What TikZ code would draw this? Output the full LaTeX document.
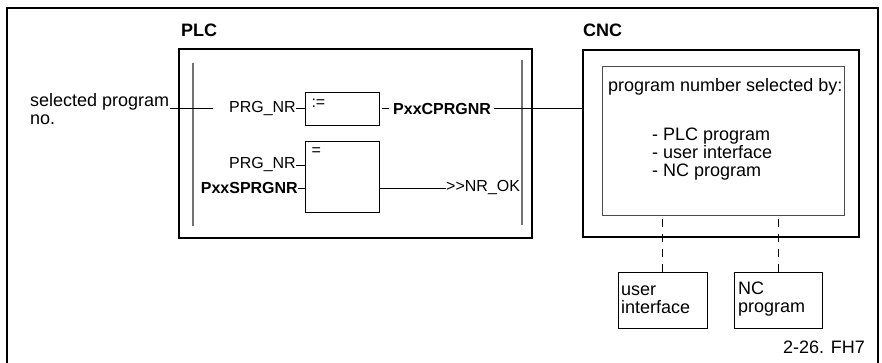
\documentclass[tikz,border=0pt]{standalone}
\usepackage{fontspec}
\setmainfont{Liberation Sans}
\usepackage{tikz}

\begin{document}
\begin{tikzpicture}[x=1pt, y=-1pt,
	frame/.style={draw, line width=2.5pt, inner sep=0},
	fblock/.style={draw, line width=0.9pt, inner sep=0, minimum width=73.3pt},
	rail/.style={line width=1.5pt, draw=black!55},
	wire/.style={line width=0.9pt},
	link/.style={line width=0.9pt, dash pattern=on 8pt off 7pt},
	big/.style={inner sep=0, font=\fontsize{18}{18}\selectfont},
	small/.style={inner sep=0, font=\fontsize{16}{16}\selectfont},
	title/.style={inner sep=0, font=\fontsize{18}{18}\selectfont\bfseries}]
			\useasboundingbox (0,0) rectangle (882,363);
			\draw[line width=2.3pt] (7,363) |- (878,8) -- (878,363);
			\node[title, anchor=base west] (plclbl) at (181,37) {PLC};
			\node[frame, minimum width=353pt, minimum height=189pt] (plc) at (355.5,143.5) {};
			\draw[rail] (193,63) -- (193,226);
			\draw[rail] (522,60) -- (522,225);
			\node[big, align=left, anchor=north west] (sel) at (30,93) {selected program\\no.};
			\coordinate (inA) at (170,108);
			\coordinate (inB) at (213,108);
			\draw[wire] (inA) -- (inB);
			\node[fblock, minimum height=33pt] (asgn) at (342.4,109.2) {};
			\node[small, anchor=north west] (asgnop) at ([shift={(6pt,-7pt)}]asgn.north west) {:=};
			\node[small, anchor=east] (prg1) at (296,108.5) {PRG\_NR};
			\draw[wire] (prg1.east) -- (prg1.east -| asgn.west);
			\node[small, anchor=west] (cprg) at (393,108.5) {\bfseries PxxCPRGNR};
			\coordinate (cstub) at (382,108.5);
			\draw[wire] (cstub) -- ([xshift=-4pt]cprg.west);
			\node[fblock, minimum height=71pt] (cmp) at (342.4,177.2) {};
			\node[small, anchor=north west] (cmpop) at ([shift={(6pt,-6pt)}]cmp.north west) {=};
			\node[small, anchor=east] (prg2) at (296,165) {PRG\_NR};
			\node[small, anchor=east] (sprg) at (298,188) {\bfseries PxxSPRGNR};
			\draw[wire] (prg2.east) -- (prg2.east -| cmp.west);
			\draw[wire] (sprg.east) -- (sprg.east -| cmp.west);
			\node[small, anchor=west] (nrok) at (446,188) {{>}{>}NR\_OK};
			\draw[wire] (cmp.east |- nrok.west) -- (nrok.west);
			\node[title, anchor=base west] (cnclbl) at (583,37) {CNC};
			\node[frame, minimum width=276pt, minimum height=187pt] (cnc) at (721,143.5) {};
			\draw[wire] ([xshift=3pt]cprg.east) -- (cprg.east -| cnc.west);
			\node[draw=black!70, line width=0.9pt, inner sep=0, minimum width=242pt, minimum height=149pt] (choice) at (723,140.5) {};
			\node[big, anchor=base west] (choicehd) at (608,92) {program number selected by:};
			\node[big, align=left, anchor=north west] (choicelist) at (652,128) {- PLC program\\- user interface\\- NC program};
			\node[fblock, minimum width=89pt, minimum height=56pt] (ui) at (662.5,300) {};
			\node[big, align=left, anchor=north west] (uitxt) at (621,285.5) {user\\interface};
			\node[fblock, minimum width=88pt, minimum height=56pt] (ncp) at (778,300) {};
			\node[big, align=left, anchor=north west] (ncptxt) at (738,282) {NC\\program};
			\draw[link] (ui) -- (ui |- choice.south);
			\draw[link] (ncp) -- (ncp |- choice.south);
			\node[big, anchor=base east] (figno) at (865,353) {2-26. FH7};
\end{tikzpicture}
\end{document}
